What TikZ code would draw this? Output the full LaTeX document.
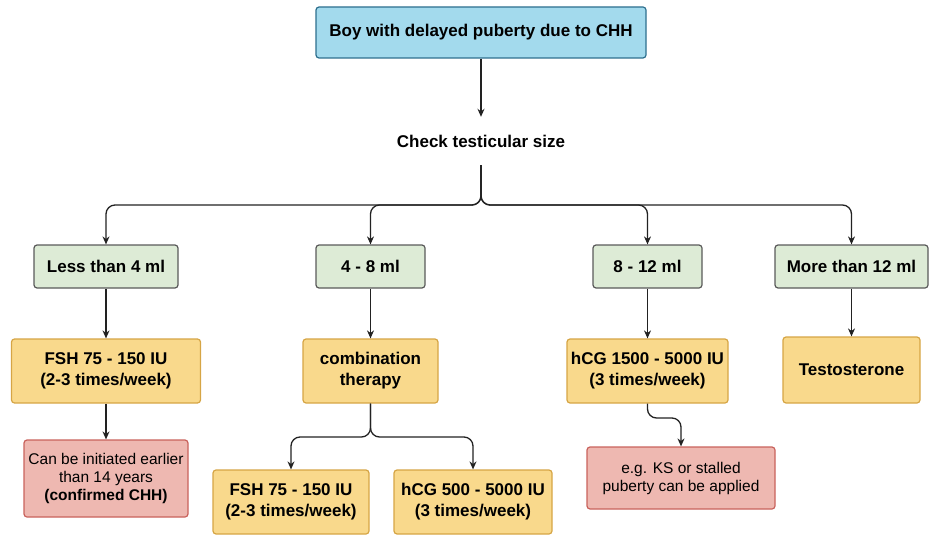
\documentclass[tikz,border=0pt]{standalone}
\usepackage{fontspec}
\setmainfont{Liberation Sans}
\usetikzlibrary{arrows.meta}
\definecolor{topfill}{HTML}{A3DAED}
\definecolor{topdraw}{HTML}{2D6F8E}
\definecolor{grnfill}{HTML}{DDEBD6}
\definecolor{grndraw}{HTML}{5A5A5A}
\definecolor{orgfill}{HTML}{F9D98C}
\definecolor{orgdraw}{HTML}{D6A545}
\definecolor{redfill}{HTML}{EEB8B1}
\definecolor{reddraw}{HTML}{C9625C}
\definecolor{linec}{HTML}{222222}
\tikzset{
  box/.style={draw, line width=1.2pt, rounded corners=3pt, inner sep=0pt, align=center,
    font=\fontsize{17}{21}\selectfont\bfseries},
  topbox/.style={box, fill=topfill, draw=topdraw},
  grnbox/.style={box, fill=grnfill, draw=grndraw, minimum height=43pt},
  orgbox/.style={box, fill=orgfill, draw=orgdraw, minimum height=64pt},
  redbox/.style={box, fill=redfill, draw=reddraw, font=\fontsize{15.5}{18}\selectfont},
  arr/.style={draw=linec, line width=1.3pt, -{Stealth[length=8pt,width=7pt]}},
}
\begin{document}
\begin{tikzpicture}[x=1pt,y=-1pt]
\useasboundingbox (0,0) rectangle (930,535);
\node[topbox, minimum width=330pt, minimum height=51pt] (top) at (481,32.5) {Boy with delayed puberty due to CHH};
\node[font=\fontsize{17}{21}\selectfont\bfseries, minimum height=48pt, inner sep=0pt] (check) at (481,141) {Check testicular size};
\coordinate (split) at (481,205);

\node[grnbox, minimum width=144pt] (g1) at (106,266.5) {Less than 4 ml};
\node[grnbox, minimum width=109pt] (g2) at (370.5,266.5) {4 - 8 ml};
\node[grnbox, minimum width=109pt] (g3) at (647.5,266.5) {8 - 12 ml};
\node[grnbox, minimum width=153pt] (g4) at (851.5,266.5) {More than 12 ml};

\node[orgbox, minimum width=189pt] (o1) at (106,371) {FSH 75 - 150 IU\\(2-3 times/week)};
\node[orgbox, minimum width=135pt] (o2) at (370.5,371) {combination\\therapy};
\node[orgbox, minimum width=161pt] (o3) at (647.5,371) {hCG 1500 - 5000 IU\\(3 times/week)};
\node[orgbox, minimum width=137pt, minimum height=66pt] (o4) at (851.5,370) {Testosterone};

\node[redbox, minimum width=164pt, minimum height=77pt] (r1) at (106,478.5) {Can be initiated earlier\\than 14 years\\\textbf{(confirmed CHH)}};
\node[orgbox, minimum width=156pt] (c1) at (291,502) {FSH 75 - 150 IU\\(2-3 times/week)};
\node[orgbox, minimum width=158pt] (c2) at (473,502) {hCG 500 - 5000 IU\\(3 times/week)};
\node[redbox, minimum width=188pt, minimum height=62pt] (r2) at (681,478) {e.g. KS or stalled\\puberty can be applied};

\draw[arr] (top) -- (check);
\draw[arr, rounded corners=9pt] (check.south) -- (split) -| (g1.north);
\draw[arr, rounded corners=9pt] (check.south) -- (split) -| (g2.north);
\draw[arr, rounded corners=9pt] (check.south) -- (split) -| (g3.north);
\draw[arr, rounded corners=9pt] (check.south) -- (split) -| (g4.north);

\draw[arr] (g1.south) -- (g1.south |- o1.north);
\draw[arr] (g2.south) -- (g2.south |- o2.north);
\draw[arr] (g3.south) -- (g3.south |- o3.north);
\draw[arr] (g4.south) -- (g4.south |- o4.north);

\draw[arr] (o1.south) -- (o1.south |- r1.north);

\coordinate (csplit) at (370.5,437);
\draw[arr, rounded corners=9pt] (o2.south) -- (csplit) -| (c1.north);
\draw[arr, rounded corners=9pt] (o2.south) -- (csplit) -| (c2.north);

\coordinate (hsplit) at (647.5,418);
\draw[arr, rounded corners=9pt] (o3.south) -- (hsplit) -| (r2.north);
\end{tikzpicture}
\end{document}
